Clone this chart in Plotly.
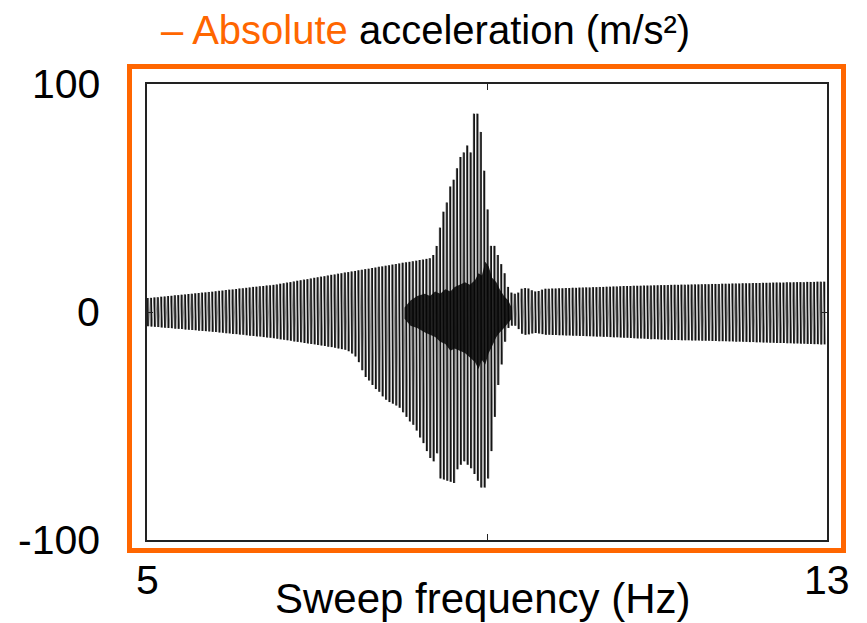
import numpy as np
import plotly.graph_objects as go

# Sweep range (Hz)
f_start, f_end = 5.0, 13.0

# Positive peak of each response cycle (m/s^2)
peak_hi = [
    6.1, 6.2, 6.4, 6.5, 6.7, 6.8, 7.0, 7.1, 7.3, 7.4,
    7.6, 7.7, 7.9, 8.0, 8.2, 8.3, 8.5, 8.6, 8.8, 8.9,
    9.1, 9.3, 9.4, 9.6, 9.8, 9.9, 10.1, 10.3, 10.4, 10.6,
    10.8, 11.0, 11.1, 11.3, 11.4, 11.6, 11.7, 11.9, 12.1, 12.4,
    12.6, 12.9, 13.1, 13.4, 13.7, 13.9, 14.2, 14.4, 14.7, 15.0,
    15.2, 15.5, 15.7, 16.0, 16.3, 16.5, 16.8, 17.0, 17.3, 17.5,
    17.8, 18.0, 18.3, 18.5, 18.8, 19.0, 19.3, 19.5, 19.8, 20.0,
    20.3, 20.5, 20.8, 21.0, 21.3, 21.6, 21.8, 22.0, 22.3, 22.5,
    22.8, 23.0, 23.3, 23.6, 25, 29, 37, 44, 48, 55,
    58, 63, 68, 70, 73, 70, 87, 87, 79, 62,
    45, 29, 29, 25, 21, 17, 11, 8.5, 8.0, 8.5,
    10.2, 10.5, 10.3, 9.5, 9.0, 9.2, 9.8, 10.2, 10.2, 10.3,
    10.3, 10.4, 10.4, 10.5, 10.5, 10.6, 10.6, 10.7, 10.7, 10.8,
    10.8, 10.9, 10.9, 11.0, 11.0, 11.1, 11.1, 11.2, 11.2, 11.3,
    11.4, 11.4, 11.4, 11.5, 11.5, 11.5, 11.6, 11.6, 11.6, 11.7,
    11.7, 11.8, 11.8, 11.8, 11.9, 11.9, 11.9, 12.0, 12.0, 12.0,
    12.1, 12.1, 12.1, 12.2, 12.2, 12.2, 12.3, 12.3, 12.3, 12.4,
    12.4, 12.4, 12.5, 12.5, 12.5, 12.6, 12.6, 12.6, 12.7, 12.7,
    12.7, 12.8, 12.8, 12.8, 12.9, 12.9, 12.9, 12.9, 13.0, 13.0,
    13.0, 13.1, 13.1, 13.1, 13.2, 13.2, 13.2, 13.3, 13.3, 13.3,
]

# Negative peak of each response cycle (m/s^2)
peak_lo = [
    -6.2, -6.4, -6.5, -6.6, -6.8, -6.9, -7.0, -7.1, -7.3, -7.4,
    -7.5, -7.7, -7.8, -7.9, -8.0, -8.2, -8.3, -8.4, -8.5, -8.7,
    -8.8, -9.0, -9.1, -9.3, -9.4, -9.6, -9.7, -9.9, -10.0, -10.2,
    -10.4, -10.5, -10.7, -10.8, -11.0, -11.2, -11.3, -11.5, -11.7, -12.0,
    -12.2, -12.4, -12.6, -12.9, -13.1, -13.3, -13.6, -13.8, -14.0, -14.2,
    -14.5, -14.7, -14.9, -15.2, -15.4, -15.7, -16.0, -16.3, -16.6, -17.2,
    -18.2, -19.5, -22, -25.5, -28.5, -30, -32, -33.8, -35, -37,
    -38.5, -39.5, -40.2, -41, -42, -44, -46, -48, -49.5, -52,
    -55, -57.5, -61, -64, -65.5, -62, -73, -73.5, -74, -74.5,
    -75, -69, -67, -65.5, -67, -68.5, -71, -74, -77, -77,
    -73, -61, -46, -32, -23, -13, -7, -6, -6, -7.5,
    -9.5, -10, -9.8, -9.4, -9.2, -9.4, -9.7, -10.0, -10.0, -10.1,
    -10.1, -10.2, -10.2, -10.3, -10.3, -10.4, -10.4, -10.5, -10.5, -10.6,
    -10.6, -10.7, -10.8, -10.8, -10.9, -10.9, -11.0, -11.1, -11.1, -11.2,
    -11.3, -11.3, -11.4, -11.5, -11.6, -11.6, -11.7, -11.8, -11.9, -11.9,
    -12.0, -12.1, -12.2, -12.2, -12.3, -12.3, -12.3, -12.4, -12.4, -12.4,
    -12.5, -12.5, -12.5, -12.6, -12.6, -12.6, -12.7, -12.7, -12.8, -12.8,
    -12.8, -12.9, -12.9, -13.0, -13.0, -13.1, -13.1, -13.2, -13.2, -13.3,
    -13.3, -13.4, -13.4, -13.5, -13.5, -13.6, -13.6, -13.6, -13.7, -13.7,
    -13.8, -13.8, -13.9, -13.9, -14.0, -14.0, -14.1, -14.1, -14.2, -14.2,
]

# Dense transient band around the resonance
band_f = [8.03, 8.10, 8.18, 8.27, 8.33, 8.39, 8.45, 8.51, 8.57, 8.62, 8.68, 8.74,
          8.80, 8.86, 8.90, 8.94, 8.98, 9.02, 9.06, 9.11, 9.15, 9.20, 9.25, 9.29]
band_top = [2, 5, 7, 8, 7, 9, 8, 10, 9, 11, 12, 13,
            12, 14, 17, 16, 22, 20, 15, 13, 10, 7, 5, 2]
band_bot = [-3, -6, -7, -9, -10, -11, -13, -14, -17, -16, -17, -18,
            -20, -22, -25, -21, -23, -18, -15, -11, -9, -7, -5, -3]

y_ticks = [100, 0, -100]
x_ticks = [5, 13]

# Cycle positions along the sweep
n = min(len(peak_hi), len(peak_lo))
df = (f_end - f_start) / n
f_hi = f_start + df * np.arange(n)
f_lo = f_hi + df / 2
hi = np.asarray(peak_hi[:n], dtype=float)
lo = np.asarray(peak_lo[:n], dtype=float)

# Continuous waveform: positive peak, then negative peak half a cycle later
wave_x = np.empty(2 * n)
wave_y = np.empty(2 * n)
wave_x[0::2], wave_x[1::2] = f_hi, f_lo
wave_y[0::2], wave_y[1::2] = hi, lo

# Peak-to-peak stroke of every cycle, drawn as a vertical bar
xc = f_hi + df / 4
stroke_x = np.column_stack([xc, xc, np.full(n, np.nan)]).ravel()
stroke_y = np.column_stack([lo, hi, np.full(n, np.nan)]).ravel()

ORANGE = "#ff6600"
FONT = "Arial, 'Liberation Sans', sans-serif"
FS = 41

fig = go.Figure()
fig.add_trace(go.Scatter(
    x=wave_x, y=wave_y, mode="lines",
    line=dict(color="rgba(40,40,40,0.8)", width=0.6),
    hoverinfo="skip",
))
fig.add_trace(go.Scatter(
    x=stroke_x, y=stroke_y, mode="lines", connectgaps=False,
    line=dict(color="rgb(20,20,20)", width=1.6),
    hoverinfo="skip",
))
fig.add_trace(go.Scatter(
    x=band_f + band_f[::-1], y=band_top + band_bot[::-1],
    mode="lines", fill="toself", fillcolor="rgba(5,5,5,0.85)",
    line=dict(width=0), hoverinfo="skip",
))

W, H = 867, 623
L, R, T, B = 147, 40, 84, 83
pw, ph = W - L - R, H - T - B


def px_x(p):
    return (p - L) / pw


def px_y(p):
    return (H - B - p) / ph


fig.update_layout(
    width=W, height=H,
    margin=dict(l=L, r=R, t=T, b=B),
    paper_bgcolor="white", plot_bgcolor="white",
    showlegend=False,
    font=dict(family=FONT, size=FS, color="black"),
    xaxis=dict(
        range=[f_start, f_end], showgrid=False, zeroline=False,
        showline=True, mirror="ticks", linecolor="#222", linewidth=1.5,
        tickvals=[9], ticks="inside", ticklen=6, tickwidth=1.2, tickcolor="#222",
        showticklabels=False,
    ),
    yaxis=dict(
        range=[-100, 100], showgrid=False, zeroline=False,
        showline=True, mirror="ticks", linecolor="#222", linewidth=1.5,
        tickvals=[0], ticks="inside", ticklen=6, tickwidth=1.2, tickcolor="#222",
        showticklabels=False,
    ),
)

# Orange frame around the panel
fig.add_shape(
    type="rect", xref="paper", yref="paper",
    x0=px_x(129.5), x1=px_x(843.5), y0=px_y(550.5), y1=px_y(66.5),
    line=dict(color=ORANGE, width=5), fillcolor="rgba(0,0,0,0)", layer="above",
)

# Tick labels
for v in y_ticks:
    fig.add_annotation(
        x=px_x(102), xref="paper", y=v, yref="y", text=str(v),
        showarrow=False, xanchor="right", yanchor="middle",
        font=dict(family=FONT, size=FS, color="black"),
    )
for v in x_ticks:
    fig.add_annotation(
        x=v, xref="x", y=px_y(580), yref="paper", text=str(v),
        showarrow=False, xanchor="center", yanchor="middle",
        font=dict(family=FONT, size=FS, color="black"),
    )

# Axis title
fig.add_annotation(
    x=px_x(483), xref="paper", y=px_y(598), yref="paper",
    text="Sweep frequency (Hz)", showarrow=False,
    xanchor="center", yanchor="middle",
    font=dict(family=FONT, size=42, color="black"),
)

# Panel title
fig.add_annotation(
    x=px_x(159), xref="paper", y=px_y(30), yref="paper",
    text=f"<span style='color:{ORANGE}'>– Absolute</span> acceleration (m/s²)",
    showarrow=False, xanchor="left", yanchor="middle",
    font=dict(family=FONT, size=40, color="black"),
)

fig.write_html("out.html")
